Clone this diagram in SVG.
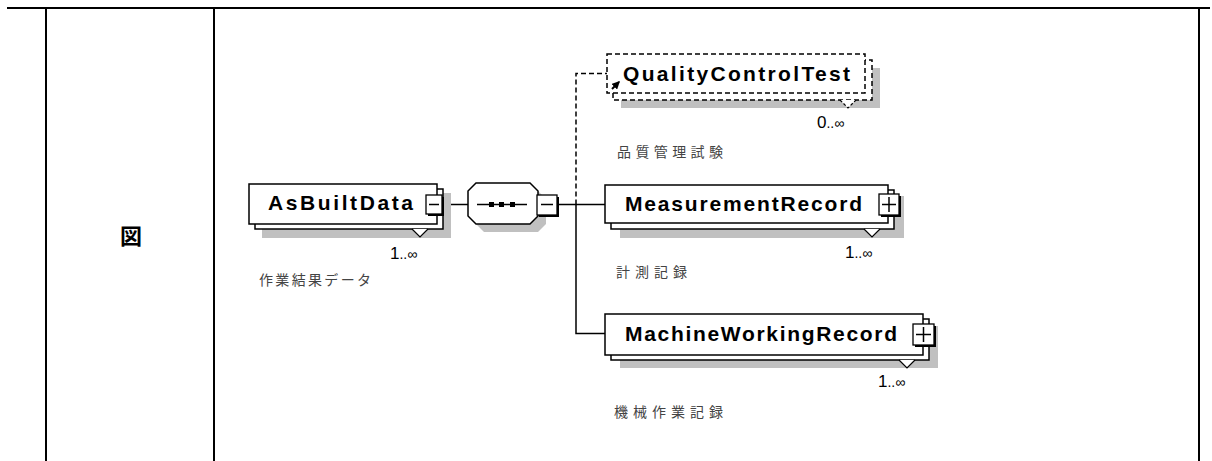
<svg xmlns="http://www.w3.org/2000/svg" width="1212" height="461" viewBox="0 0 1212 461">
<style>
.tbl{stroke:#000;stroke-width:2;fill:none}
.shadow{fill:#c0c0c0}
.box{fill:#fff;stroke:#000;stroke-width:1.5}
.dbox{fill:#fff;stroke:#000;stroke-width:1.5;stroke-dasharray:5,3}
.name{font-family:"Liberation Sans",Arial,sans-serif;font-weight:bold;font-size:21px;fill:#000}
.card{font-family:"Liberation Sans",Arial,sans-serif;font-size:17px;fill:#000}
.card tspan{font-size:14px}
.jp{font-family:"Noto Sans CJK JP","Noto Sans CJK SC",sans-serif;font-size:14px;fill:#444}
.conn{stroke:#000;stroke-width:1.5;fill:none}
.dash{stroke:#000;stroke-width:1.5;fill:none;stroke-dasharray:5,3}
.tri{fill:#fff;stroke:#000;stroke-width:1.2}
.btn{fill:#fff;stroke:#000;stroke-width:1.3}
.btnsh{fill:#000}
.sign{stroke:#000;stroke-width:1.5}
</style>
<defs>
<marker id="ah" viewBox="0 0 6 6" refX="5" refY="3" markerWidth="4" markerHeight="4" orient="auto">
<path d="M0,0 L6,3 L0,6 z" fill="#000"/>
</marker>
</defs>

<g id="table">
<line class="tbl" x1="7" y1="8" x2="1210" y2="8"/>
<line class="tbl" x1="46" y1="8" x2="46" y2="461"/>
<line class="tbl" x1="214" y1="8" x2="214" y2="461"/>
<line class="tbl" x1="1199" y1="8" x2="1199" y2="461"/>
<text x="131" y="244" text-anchor="middle" font-family="'Noto Sans CJK JP','Noto Sans CJK SC',sans-serif" font-weight="bold" font-size="22">図</text>
</g>

<g id="connectors">
<line class="conn" x1="443" y1="204.5" x2="468" y2="204.5"/>
<line class="conn" x1="558" y1="204.5" x2="605" y2="204.5"/>
<polyline class="conn" points="576,204.5 576,333.5 605,333.5"/>
<polyline class="dash" points="576,204.5 576,73.5 607,73.5"/>
</g>

<g id="AsBuiltData">
<rect class="shadow" x="262" y="193" width="189" height="45"/>
<rect class="box" x="255" y="189" width="188" height="40"/>
<rect class="box" x="249" y="184" width="188" height="40"/>
<polyline class="tri" points="412,229 420,237 428,229"/>
<rect class="btnsh" x="428" y="197" width="16" height="19"/>
<rect class="btn" x="426" y="195" width="16" height="19"/>
<line class="sign" x1="429" y1="204.5" x2="439" y2="204.5"/>
<text class="name" x="268" y="210" textLength="145" lengthAdjust="spacing">AsBuiltData</text>
<text class="card" x="390" y="259">1<tspan>..∞</tspan></text>
<text class="jp" x="259" y="285" textLength="112" lengthAdjust="spacing">作業結果データ</text>
</g>

<g id="sequence">
<polygon class="shadow" points="484,191 538,191 546,199 546,224 538,232 484,232 476,224 476,199"/>
<polygon class="box" points="476,183 530,183 538,191 538,216 530,224 476,224 468,216 468,191"/>
<line class="conn" x1="477" y1="204.5" x2="527" y2="204.5"/>
<rect x="489" y="202" width="5" height="5" fill="#000"/>
<rect x="499" y="202" width="5" height="5" fill="#000"/>
<rect x="510" y="202" width="5" height="5" fill="#000"/>
<rect class="btnsh" x="539" y="197" width="20" height="20"/>
<rect class="btn" x="537" y="195" width="20" height="20"/>
<line class="sign" x1="541" y1="204.5" x2="553" y2="204.5"/>
</g>

<g id="QualityControlTest">
<rect class="shadow" x="621" y="68" width="259" height="40"/>
<rect class="dbox" x="613" y="60" width="259" height="40"/>
<rect class="dbox" x="607" y="54" width="258" height="39"/>
<polyline class="tri" points="840,100 848,108 856,100" stroke-dasharray="3,2"/>
<line x1="612" y1="89" x2="619" y2="82" stroke="#000" stroke-width="2" marker-end="url(#ah)"/>
<text class="name" x="623" y="81" textLength="227" lengthAdjust="spacing">QualityControlTest</text>
<text class="card" x="817" y="128">0<tspan>..∞</tspan></text>
<text class="jp" x="617" y="157" textLength="106" lengthAdjust="spacing">品質管理試験</text>
</g>

<g id="MeasurementRecord">
<rect class="shadow" x="620" y="196" width="284" height="42"/>
<rect class="box" x="611" y="190" width="283" height="39"/>
<rect class="box" x="605" y="185" width="283" height="38"/>
<polyline class="tri" points="864,229 872,237 880,229"/>
<rect class="btnsh" x="881" y="196" width="20" height="21"/>
<rect class="btn" x="879" y="194" width="20" height="21"/>
<line class="sign" x1="882" y1="204.5" x2="896" y2="204.5"/>
<line class="sign" x1="889" y1="197" x2="889" y2="212"/>
<text class="name" x="625" y="211" textLength="237" lengthAdjust="spacing">MeasurementRecord</text>
<text class="card" x="845" y="258">1<tspan>..∞</tspan></text>
<text class="jp" x="616" y="277" textLength="71" lengthAdjust="spacing">計測記録</text>
</g>

<g id="MachineWorkingRecord">
<rect class="shadow" x="620" y="326" width="318" height="42"/>
<rect class="box" x="611" y="319" width="318" height="41"/>
<rect class="box" x="605" y="314" width="318" height="41"/>
<polyline class="tri" points="899,360 907,368 915,360"/>
<rect class="btnsh" x="915" y="326" width="21" height="21"/>
<rect class="btn" x="913" y="324" width="21" height="21"/>
<line class="sign" x1="916" y1="334.5" x2="931" y2="334.5"/>
<line class="sign" x1="923.5" y1="327" x2="923.5" y2="342"/>
<text class="name" x="625" y="341" textLength="272" lengthAdjust="spacing">MachineWorkingRecord</text>
<text class="card" x="878" y="387">1<tspan>..∞</tspan></text>
<text class="jp" x="614" y="417" textLength="109" lengthAdjust="spacing">機械作業記録</text>
</g>
</svg>
